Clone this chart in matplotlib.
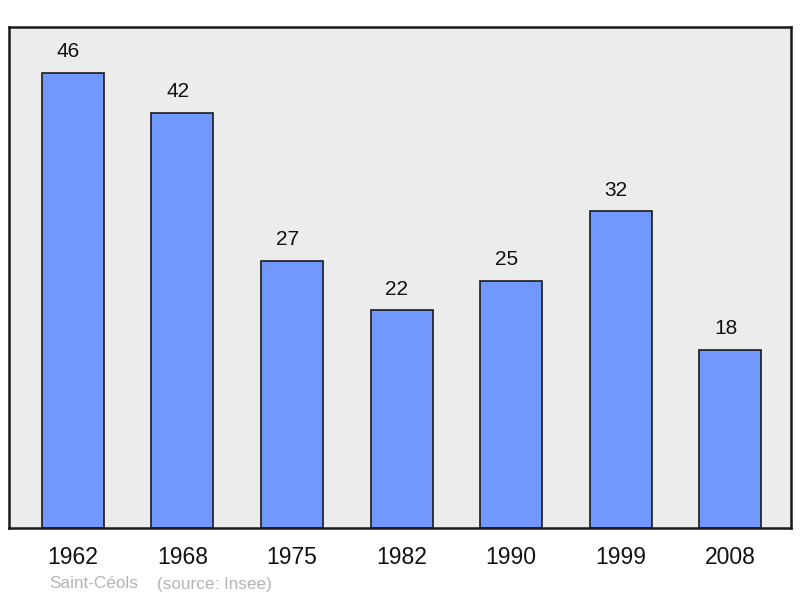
import matplotlib
matplotlib.use("Agg")
import matplotlib.pyplot as plt

years = ["1962", "1968", "1975", "1982", "1990", "1999", "2008"]
population = [46, 42, 27, 22, 25, 32, 18]

plt.rcParams['font.family'] = ['Liberation Sans', 'DejaVu Sans']

fig = plt.figure(figsize=(8, 5.98), dpi=100)
ax = fig.add_axes([9/800, 70/598, 782/800, 501/598])
ax.set_facecolor('#ececec')

x = list(range(len(years)))
ax.bar(x, population, width=0.566, color='#7098ff', edgecolor='#1a1a1a', linewidth=1.2, zorder=2)
for xi, v in zip(x, population):
    ax.annotate(str(v), (xi, v), xytext=(-3.3, 8.3), textcoords='offset points',
                ha='center', va='bottom', fontsize=15, color='#111111')

ax.set_xlim(-0.584, 6.556)
ax.set_ylim(0, 50.65)
ax.set_yticks([])
ax.set_xticks(x)
ax.set_xticklabels(years, fontsize=16.5, color='#111111')
ax.tick_params(axis='x', length=0, pad=13)
for s in ax.spines.values():
    s.set_linewidth(1.8)
    s.set_color('#1a1a1a')

fig.text(49/800, 1 - 584/598, "Saint-Céols", fontsize=12.3, color='#b4b4b4', va='center', ha='left')
fig.text(157/800, 1 - 584/598, "(source: Insee)", fontsize=12.3, color='#b4b4b4', va='center', ha='left')

fig.savefig("out.png", dpi=100, facecolor='white')
